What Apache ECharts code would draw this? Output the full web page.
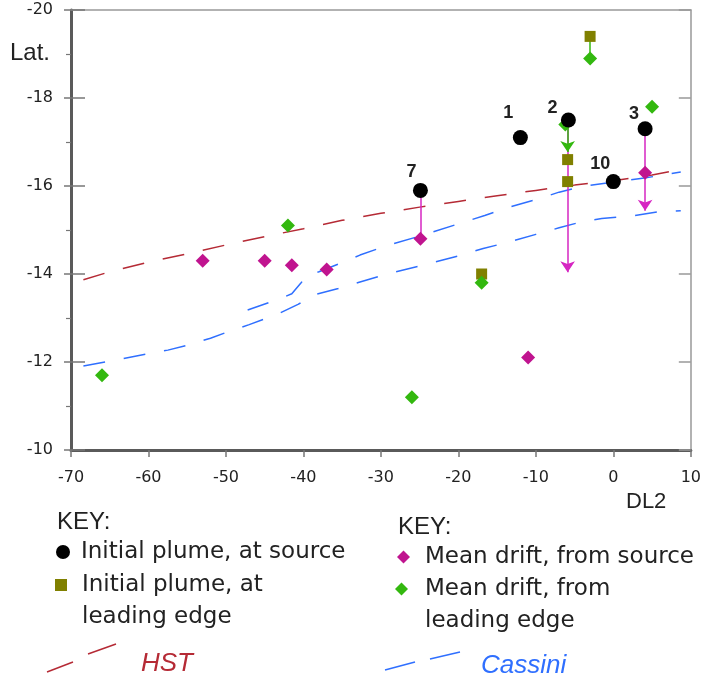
<!DOCTYPE html>
<html>
<head>
<meta charset="utf-8">
<script src="https://cdn.jsdelivr.net/npm/echarts@6/dist/echarts.min.js"></script>
<style>
  html, body { margin: 0; padding: 0; background: #fff; }
  #chart { width: 704px; height: 679px; }
</style>
</head>
<body>
<div id="chart"></div>
<script>
// initial plume, at source (numbered)
var sourceX = [-12, -5.8, 4.1, 0, -24.9];
var sourceY = [-17.1, -17.5, -17.3, -16.1, -15.9];
var sourceNames = ["1", "2", "3", "10", "7"];

// initial plume, at leading edge
var edgeX = [-3, -5.9, -5.9, -17];
var edgeY = [-19.4, -16.6, -16.1, -14.0];

// mean drift, from source
var driftSrcX = [-53, -45, -41.5, -37, -24.9, -11, 4.1];
var driftSrcY = [-14.3, -14.3, -14.2, -14.1, -14.8, -12.1, -16.3];

// mean drift, from leading edge
var driftEdgeX = [-66, -42, -26, -17, -6.2, -3, 5];
var driftEdgeY = [-11.7, -15.1, -11.2, -13.8, -17.4, -18.9, -17.8];

// drift links (magenta from source, green from leading edge)
var magX = [-24.9, -5.9, 4.1];
var magFromY = [-15.9, -17.4, -17.3];
var magToY = [-14.8, -14.04, -15.44];
var magArrow = [false, true, true];

var grnX = [-5.9, -3];
var grnFromY = [-17.4, -19.4];
var grnToY = [-16.77, -18.9];
var grnArrow = [true, false];

// HST curve
var hstX = [-68.4, -65, -60, -55, -50, -45, -40, -35, -30, -25, -20, -15, -10, -5, 0, 5, 8.7];
var hstY = [-13.87, -14.05, -14.27, -14.46, -14.66, -14.85, -15.03, -15.22, -15.38, -15.52, -15.65, -15.78, -15.9, -16.02, -16.12, -16.25, -16.38];

// Cassini curves
var casUpX = [-47.2, -43.3, -41.5, -40.3, -39.5, -38, -35, -32.7, -29, -25, -20, -16.6, -13.4, -10, -7, -4, 0, 4, 8.7];
var casUpY = [-13.18, -13.42, -13.55, -13.8, -13.98, -14.05, -14.26, -14.43, -14.66, -14.86, -15.14, -15.33, -15.52, -15.69, -15.86, -15.99, -16.09, -16.18, -16.32];
var casLoX = [-68.4, -65, -60, -57.5, -55, -52, -50, -47, -43.3, -40.7, -38.3, -35.5, -32.7, -29, -25, -20, -16.8, -13.4, -10, -7, -4, -1.5, 2.5, 5.7, 8.7];
var casLoY = [-11.91, -12.02, -12.19, -12.27, -12.38, -12.54, -12.67, -12.85, -13.09, -13.31, -13.54, -13.67, -13.82, -14.01, -14.18, -14.41, -14.58, -14.73, -14.9, -15.05, -15.19, -15.26, -15.32, -15.41, -15.44];

var xTicks = [-70, 10, 10];   // min, max, step
var yTicks = [-20, -10, 2];

function pairs(xs, ys) {
    return xs.map(function (x, i) { return [x, ys[i]]; });
}
function links(xs, y1, y2, flags, want) {
    var out = [];
    for (var i = 0; i < xs.length; i++) {
        if (flags[i] == want) out.push({ coords: [[xs[i], y1[i]], [xs[i], y2[i]]] });
    }
    return out;
}

var labelOffsets = [[-12, -25], [-16, -12], [-11, -15], [-13, -18], [-9, -18]];
var sourceData = sourceX.map(function (x, i) {
    return {
        value: [x, sourceY[i]],
        label: { formatter: sourceNames[i], offset: labelOffsets[i] }
    };
});

var SANS = '"DejaVu Sans"';
var ARIAL = '"Liberation Sans"';
var MAG = "#c0148f", MAG_LINE = "#d626c2", GRN = "#33b80f", OLIVE = "#808000";
var RED = "#b52a35", BLUE = "#2f6fff";

var dom = document.getElementById("chart");
var myChart = echarts.init(dom, null, { renderer: "canvas" });

// one legend per key entry; a leading blank line keeps the icon on the first text line
function keyLegend(name, icon, size, left, top, padLeft) {
    return {
        data: [{ name: name, icon: icon }],
        left: left,
        top: top,
        padding: 0,
        itemWidth: size,
        itemHeight: size,
        selectedMode: false,
        formatter: function (n) {
            if (n.indexOf("leading") < 0) return n;
            return "\n" + n.replace(" leading", "\nleading");
        },
        textStyle: {
            fontFamily: SANS,
            fontSize: 23,
            color: "#222",
            lineHeight: 32,
            padding: [0, 0, 0, padLeft]
        }
    };
}

var option = {
    animation: false,
    backgroundColor: "#fff",
    grid: { left: 71, right: 12, top: 10, bottom: 229 },
    xAxis: [{
        type: "value",
        min: xTicks[0], max: xTicks[1], interval: xTicks[2],
        position: "bottom",
        splitLine: { show: false },
        axisLine: { onZero: false, lineStyle: { color: "#5a5a5a", width: 3 } },
        axisTick: { inside: false, length: 7, lineStyle: { color: "#777", width: 1.5 } },
        axisLabel: { margin: 20, color: "#222", fontFamily: SANS, fontSize: 16 }
    }, {
        type: "value",
        min: xTicks[0], max: xTicks[1], interval: xTicks[2],
        position: "top",
        splitLine: { show: false },
        axisLine: { onZero: false, lineStyle: { color: "#999", width: 1.5 } },
        axisTick: { show: false },
        axisLabel: { show: false }
    }],
    yAxis: [{
        type: "value",
        inverse: true,
        min: yTicks[0], max: yTicks[1], interval: yTicks[2],
        position: "left",
        splitLine: { show: false },
        axisLine: { onZero: false, lineStyle: { color: "#5a5a5a", width: 3 } },
        axisTick: { inside: false, length: 7, lineStyle: { color: "#777", width: 1.5 } },
        minorTick: { show: true, splitNumber: 2, length: 5, lineStyle: { color: "#777", width: 1.2 } },
        axisLabel: { margin: 18, color: "#222", fontFamily: SANS, fontSize: 16 }
    }, {
        type: "value",
        inverse: true,
        min: yTicks[0], max: yTicks[1], interval: yTicks[2],
        position: "left",
        splitLine: { show: false },
        axisLine: { show: false, onZero: false },
        axisTick: { inside: true, length: 14, lineStyle: { color: "#777", width: 1.5 } },
        axisLabel: { show: false }
    }, {
        type: "value",
        inverse: true,
        min: yTicks[0], max: yTicks[1], interval: yTicks[2],
        position: "right",
        splitLine: { show: false },
        axisLine: { onZero: false, lineStyle: { color: "#999", width: 1.5 } },
        axisTick: { inside: true, length: 12, lineStyle: { color: "#999", width: 1.5 } },
        axisLabel: { show: false }
    }],
    legend: [
        keyLegend("Initial plume, at source", "circle", 14, 56, 536, 6),
        keyLegend("Initial plume, at leading edge", "rect", 12, 55, 537, 10),
        keyLegend("Mean drift, from source", "diamond", 13, 397, 541, 10),
        keyLegend("Mean drift, from leading edge", "diamond", 13, 395, 541, 12)
    ],
    graphic: [
        { type: "text", x: 10, y: 53, style: { text: "Lat.", font: "24px " + ARIAL, fill: "#222", verticalAlign: "middle" } },
        { type: "text", x: 626, y: 502, style: { text: "DL2", font: "22px " + ARIAL, fill: "#222", verticalAlign: "middle" } },
        { type: "text", x: 57, y: 522, style: { text: "KEY:", font: "24px " + ARIAL, fill: "#222", verticalAlign: "middle" } },
        { type: "text", x: 398, y: 527, style: { text: "KEY:", font: "24px " + ARIAL, fill: "#222", verticalAlign: "middle" } },
        { type: "line", shape: { x1: 47, y1: 672, x2: 73, y2: 662 }, style: { stroke: RED, lineWidth: 1.5 } },
        { type: "line", shape: { x1: 88, y1: 654, x2: 116, y2: 644 }, style: { stroke: RED, lineWidth: 1.5 } },
        { type: "text", x: 141, y: 664, style: { text: "HST", font: "italic 26px " + ARIAL, fill: RED, verticalAlign: "middle" } },
        { type: "line", shape: { x1: 385, y1: 670, x2: 415, y2: 662 }, style: { stroke: BLUE, lineWidth: 1.5 } },
        { type: "line", shape: { x1: 430, y1: 659, x2: 460, y2: 652 }, style: { stroke: BLUE, lineWidth: 1.5 } },
        { type: "text", x: 481, y: 666, style: { text: "Cassini", font: "italic 26px " + ARIAL, fill: BLUE, verticalAlign: "middle" } }
    ],
    series: [
        {
            name: "HST", type: "line", z: 1, symbol: "none", silent: true,
            data: pairs(hstX, hstY),
            lineStyle: { color: RED, width: 1.5, type: [22, 19] }
        },
        {
            name: "Cassini", type: "line", z: 1, symbol: "none", silent: true,
            data: pairs(casUpX, casUpY),
            lineStyle: { color: BLUE, width: 1.5, type: [22, 19] }
        },
        {
            name: "Cassini", type: "line", z: 1, symbol: "none", silent: true,
            data: pairs(casLoX, casLoY),
            lineStyle: { color: BLUE, width: 1.5, type: [22, 19] }
        },
        {
            type: "lines", coordinateSystem: "cartesian2d", z: 2,
            data: links(magX, magFromY, magToY, magArrow, false),
            lineStyle: { color: MAG_LINE, width: 1.5, opacity: 1 }
        },
        {
            type: "lines", coordinateSystem: "cartesian2d", z: 2,
            symbol: ["none", "arrow"], symbolSize: 11,
            data: links(magX, magFromY, magToY, magArrow, true),
            lineStyle: { color: MAG_LINE, width: 1.5, opacity: 1 }
        },
        {
            type: "lines", coordinateSystem: "cartesian2d", z: 2,
            data: links(grnX, grnFromY, grnToY, grnArrow, false),
            lineStyle: { color: GRN, width: 1.5, opacity: 1 }
        },
        {
            type: "lines", coordinateSystem: "cartesian2d", z: 2,
            symbol: ["none", "arrow"], symbolSize: 11,
            data: links(grnX, grnFromY, grnToY, grnArrow, true),
            lineStyle: { color: GRN, width: 1.5, opacity: 1 }
        },
        {
            name: "Initial plume, at leading edge", type: "scatter", z: 3,
            symbol: "rect", symbolSize: 11,
            itemStyle: { color: OLIVE, opacity: 1 },
            data: pairs(edgeX, edgeY)
        },
        {
            name: "Mean drift, from source", type: "scatter", z: 4,
            symbol: "diamond", symbolSize: 14,
            itemStyle: { color: MAG, opacity: 1 },
            data: pairs(driftSrcX, driftSrcY)
        },
        {
            name: "Mean drift, from leading edge", type: "scatter", z: 4,
            symbol: "diamond", symbolSize: 14,
            itemStyle: { color: GRN, opacity: 1 },
            data: pairs(driftEdgeX, driftEdgeY)
        },
        {
            name: "Initial plume, at source", type: "scatter", z: 5,
            symbol: "circle", symbolSize: 15,
            itemStyle: { color: "#000", opacity: 1 },
            label: {
                show: true, position: "inside",
                color: "#222", fontFamily: ARIAL, fontWeight: "bold", fontSize: 18
            },
            data: sourceData
        }
    ]
};

myChart.setOption(option);
</script>
</body>
</html>
